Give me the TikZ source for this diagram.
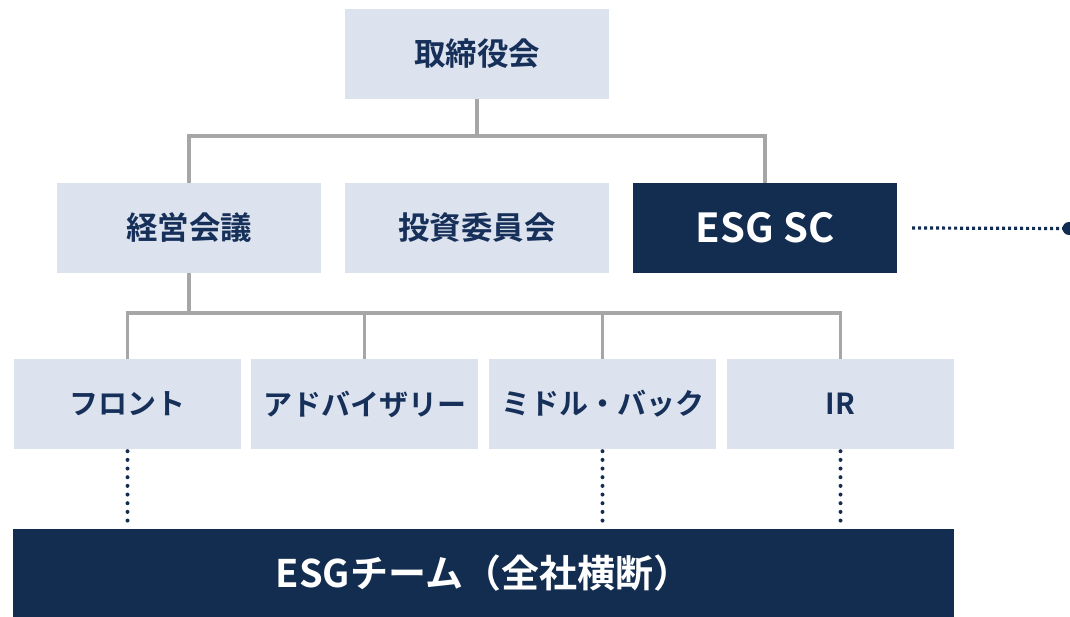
\documentclass[tikz,border=0pt]{standalone}
\usepackage{fontspec}
\setmainfont{Noto Sans CJK JP}[BoldFont={Noto Sans CJK JP Bold}]
\usetikzlibrary{calc}
\definecolor{lightbox}{HTML}{DCE3EE}
\definecolor{navy}{HTML}{132D50}
\definecolor{navytext}{HTML}{16305A}
\definecolor{linegray}{HTML}{A6A6A6}
\tikzset{
  lbox/.style={rectangle, fill=lightbox, inner sep=0pt, minimum height=90pt,
    text=navytext, font=\fontsize{31.5}{36}\selectfont\bfseries},
  sbox/.style={lbox, minimum width=227pt, font=\fontsize{29}{34}\selectfont\bfseries},
  dbox/.style={rectangle, fill=navy, inner sep=0pt, minimum height=90pt,
    text=white, font=\fontsize{38}{44}\selectfont\bfseries},
  conn/.style={draw=linegray, line width=3.2pt},
  vdots/.style={draw=navy, line width=4pt, line cap=round, dash pattern=on 0pt off 8.67pt},
  hdots/.style={draw=navy, line width=3.2pt, dash pattern=on 3pt off 3pt},
}
\begin{document}
\begin{tikzpicture}[x=1pt,y=-1pt]
\useasboundingbox (0,0) rectangle (1070,617);
\node[lbox, minimum width=264pt] (top) at (477,54) {取締役会};
\node[lbox, minimum width=264pt] (keiei) at (189,228) {経営会議};
\node[lbox, minimum width=264pt] (toushi) at (477,228) {投資委員会};
\node[dbox, minimum width=264pt, font=\fontsize{40}{46}\selectfont\bfseries] (esgsc) at (765,228) {ESG SC};
\node[sbox] (front) at (127.5,404) {フロント};
\node[sbox] (adv) at (364.5,404) {アドバイザリー};
\node[sbox] (mid) at (602.5,404) {ミドル・バック};
\node[sbox] (ir) at (840.5,404) {IR};
\node[dbox, minimum width=941pt, minimum height=88pt] (team) at (483.5,573) {ESGチーム（全社横断）};
\coordinate (j1) at (477,136);
\coordinate (j2) at (189,313);
\draw[conn] (top.south) -- (j1);
\draw[conn] (keiei.north) |- (j1) -| (esgsc.north);
\draw[conn] (keiei.south) -- (j2);
\draw[conn] (front.north) |- (j2) -| (ir.north);
\draw[conn] (adv.north) -- (adv.north|-j2);
\draw[conn] (mid.north) -- (mid.north|-j2);
\draw[vdots] ($(front.south)+(0,2)$) -- (front.south|-team.north);
\draw[vdots] ($(mid.south)+(0,2)$) -- (mid.south|-team.north);
\draw[vdots] ($(ir.south)+(0,2)$) -- (ir.south|-team.north);
\coordinate (endpt) at (1069,228.5);
\draw[hdots] ($(esgsc.east)+(15,0)$) -- (endpt);
\fill[navy] (endpt) circle (6.5pt);
\end{tikzpicture}
\end{document}
